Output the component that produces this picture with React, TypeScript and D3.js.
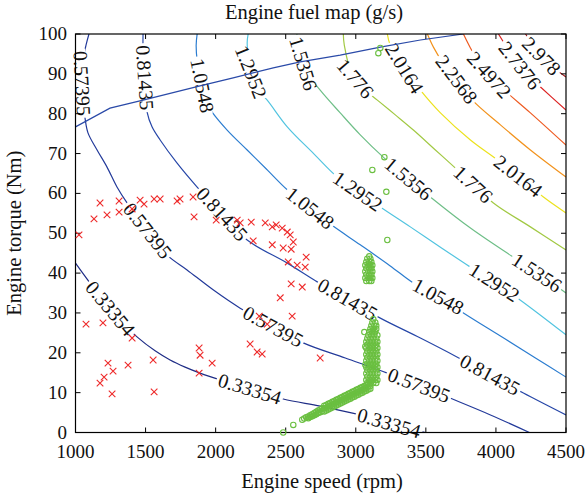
import React from 'react';
import * as d3 from 'd3';

const speedTicks = [1000, 1500, 2000, 2500, 3000, 3500, 4000, 4500];
const torqueTicks = [0, 10, 20, 30, 40, 50, 60, 70, 80, 90, 100];

const levelNames = ['0.33354', '0.57395', '0.81435', '1.0548', '1.2952', '1.5356', '1.776', '2.0164', '2.2568', '2.4972', '2.7376', '2.978'];

const iso0 = [[1000, 42.5], [1104, 37.5], [1211, 32.7], [1318, 28.2], [1439, 24.0], [1568, 20.5], [1675, 18.2], [1782, 16.4], [1889, 14.9], [2032, 13.2], [2246, 10.9], [2482, 8.4], [2746, 6.6], [3032, 4.4], [3282, 1.9], [3496, 0]];
const iso1 = [[1096, 100], [1075, 97.2], [1054, 93.5], [1046, 88.5], [1054, 83.4], [1068, 78.9], [1089, 75.2], [1154, 70.9], [1225, 66.6], [1296, 61.6], [1368, 57.6], [1511, 50.8], [1654, 44.5], [1796, 40.8], [1982, 35.8], [2175, 31.2], [2389, 27.0], [2625, 22.5], [2925, 18.7], [3225, 14.9], [3461, 11.7], [3654, 8.9], [3961, 4.4], [4239, 0]];
const iso2 = [[1482, 100], [1482, 96.0], [1496, 88.5], [1511, 80.4], [1546, 76.7], [1604, 73.4], [1725, 67.6], [1868, 61.6], [2046, 54.8], [2225, 48.3], [2511, 42.5], [2725, 37.8], [2961, 33.0], [3175, 28.7], [3461, 23.7], [3725, 18.9], [3961, 14.4], [4196, 9.9], [4500, 4.4]];
const iso3 = [[1868, 100], [1861, 97.2], [1868, 93.5], [1925, 83.4], [1975, 80.4], [2082, 75.9], [2225, 70.9], [2368, 65.9], [2511, 60.9], [2675, 56.3], [2818, 52.3], [3032, 47.1], [3246, 41.8], [3411, 37.5], [3604, 33.8], [3768, 30.0], [4032, 24.2], [4282, 18.7], [4500, 13.9]];
const iso4 = [[2232, 100], [2225, 97.7], [2246, 91.0], [2304, 85.9], [2368, 83.4], [2511, 76.7], [2696, 70.1], [2868, 64.1], [3032, 60.1], [3175, 56.6], [3389, 51.6], [3604, 46.5], [3818, 41.5], [3996, 37.5], [4175, 33.2], [4500, 24.5]];
const iso5 = [[2582, 100], [2575, 98.5], [2639, 91.0], [2746, 85.9], [2889, 80.2], [3032, 74.7], [3196, 69.1], [3318, 65.4], [3532, 59.1], [3818, 51.3], [4154, 43.3], [4318, 39.5], [4500, 35.0]];
const iso6 = [[2911, 100], [2918, 97.2], [2975, 89.7], [3068, 85.9], [3154, 83.4], [3282, 79.7], [3411, 75.9], [3568, 70.9], [3725, 65.9], [3982, 57.6], [4246, 51.6], [4500, 45.8]];
const iso7 = [[3225, 100], [3246, 97.2], [3354, 91.0], [3461, 85.9], [3604, 80.2], [3818, 73.4], [4011, 68.4], [4175, 63.9], [4339, 59.1], [4500, 55.1]];
const iso8 = [[3511, 100], [3554, 96.7], [3618, 93.0], [3711, 89.0], [3832, 83.4], [4032, 77.2], [4246, 70.9], [4500, 64.1]];
const iso9 = [[3768, 100], [3818, 96.5], [3889, 92.2], [3996, 88.0], [4082, 85.2], [4246, 80.2], [4500, 72.1]];
const iso10 = [[4018, 100], [4068, 97.2], [4139, 93.5], [4225, 89.7], [4318, 86.7], [4500, 80.9]];
const iso11 = [[4211, 100], [4261, 97.5], [4318, 94.7], [4389, 92.2], [4500, 89.2]];

const isoLines = [iso0, iso1, iso2, iso3, iso4, iso5, iso6, iso7, iso8, iso9, iso10, iso11];
const isoColors = ['#1f2d86', '#233a9a', '#2747a8', '#2c7dd0', '#52c4e0', '#6fbf88', '#a2c944', '#ece21e', '#f2931e', '#ee5b22', '#dc2424', '#a8181c'];

const maxTorque = [[1000, 76.7], [1246, 81.4], [1482, 83.4], [1889, 87.0], [2125, 89.0], [2411, 91.5], [2604, 93.0], [2889, 94.7], [3175, 96.7], [3461, 98.5], [3768, 100]];

// [level index, speed, torque]
const labelAnchors = [
  [1, 1086, 87.7], [2, 1482, 89.0], [3, 1925, 87.2], [4, 2289, 91.0], [5, 2639, 92.7], [6, 3025, 89.7],
  [7, 3361, 91.7], [8, 3696, 88.0], [9, 3975, 90.5], [10, 4204, 93.0], [11, 4346, 95.2],
  [1, 1511, 50.6], [2, 2054, 55.1], [3, 2661, 55.8], [4, 3011, 60.4], [5, 3375, 63.6], [6, 3846, 62.6], [7, 4154, 64.1],
  [0, 1261, 31.5], [0, 2246, 11.2], [1, 2404, 26.2], [2, 2939, 33.2], [3, 3582, 33.8], [4, 3982, 37.3], [5, 4296, 40.3],
  [1, 3446, 11.4], [2, 3961, 14.7], [0, 3246, 3.4],
];

const redPoints = [
  [1025, 49.6], [1132, 53.6], [1175, 57.6], [1225, 54.6], [1311, 58.1], [1311, 55.3], [1404, 56.1], [1461, 58.3], [1489, 57.3],
  [1561, 58.6], [1604, 58.6], [1725, 58.1], [1746, 58.6], [1839, 59.1], [1846, 54.1], [2004, 53.3], [2154, 53.3], [2175, 52.6],
  [2254, 52.8], [2268, 48.1], [2354, 52.6], [2404, 51.6], [2432, 52.1], [2475, 51.3], [2511, 50.3], [2532, 49.6], [2554, 47.8],
  [2404, 47.1], [2482, 46.3], [2539, 46.0], [2518, 42.8], [2646, 44.0], [2582, 42.0], [2639, 41.5], [2539, 37.3], [2618, 36.5],
  [2461, 33.8], [2546, 29.2], [2746, 18.7], [1075, 27.2], [1196, 27.5], [1404, 23.7], [1232, 17.4], [1268, 15.4], [1204, 13.9],
  [1175, 12.4], [1261, 9.7], [1375, 16.9], [1554, 18.2], [1561, 10.2], [1882, 21.2], [1889, 19.4], [1975, 17.4], [1882, 14.9],
  [2246, 22.2], [2296, 20.2], [2332, 19.7], [2311, 29.2], [2368, 27.2],
];

const greenScatter = [[3175, 96.5], [3161, 95.2], [3204, 69.1], [3118, 65.9], [3218, 60.4], [3225, 48.3]];

const greenUpperCluster = [
  [3075, 38.0], [3096, 38.0], [3111, 38.0],
  [3068, 38.8], [3089, 38.8], [3104, 38.8], [3118, 38.8],
  [3075, 39.6], [3096, 39.6], [3111, 39.6],
  [3068, 40.4], [3089, 40.4], [3104, 40.4], [3118, 40.4],
  [3075, 41.2], [3096, 41.2], [3111, 41.2],
  [3068, 42.0], [3089, 42.0], [3104, 42.0], [3118, 42.0],
  [3075, 42.8], [3096, 42.8], [3111, 42.8],
  [3082, 43.6], [3104, 43.6], [3096, 44.2],
];

const greenColumn = [
  [3082, 12.4], [3104, 12.4], [3125, 12.4], [3146, 12.4],
  [3075, 13.2], [3096, 13.2], [3118, 13.2], [3139, 13.2], [3154, 13.2],
  [3082, 14.0], [3104, 14.0], [3125, 14.0], [3146, 14.0],
  [3075, 14.8], [3096, 14.8], [3118, 14.8], [3139, 14.8], [3154, 14.8],
  [3082, 15.6], [3104, 15.6], [3125, 15.6], [3146, 15.6],
  [3075, 16.4], [3096, 16.4], [3118, 16.4], [3139, 16.4], [3154, 16.4],
  [3082, 17.2], [3104, 17.2], [3125, 17.2], [3146, 17.2],
  [3075, 18.0], [3096, 18.0], [3118, 18.0], [3139, 18.0], [3154, 18.0],
  [3082, 18.8], [3104, 18.8], [3125, 18.8], [3146, 18.8],
  [3075, 19.6], [3096, 19.6], [3118, 19.6], [3139, 19.6], [3154, 19.6],
  [3082, 20.4], [3104, 20.4], [3125, 20.4], [3146, 20.4],
  [3075, 21.2], [3096, 21.2], [3118, 21.2], [3139, 21.2], [3154, 21.2],
  [3082, 22.0], [3104, 22.0], [3125, 22.0], [3146, 22.0],
  [3075, 22.8], [3096, 22.8], [3118, 22.8], [3139, 22.8], [3154, 22.8],
  [3082, 23.6], [3104, 23.6], [3125, 23.6], [3146, 23.6],
  [3089, 24.4], [3111, 24.4], [3132, 24.4], [3154, 24.4],
  [3096, 25.2], [3118, 25.2], [3139, 25.2],
  [3104, 26.0], [3125, 26.0], [3146, 26.0],
  [3111, 26.8], [3132, 26.8], [3146, 26.8],
  [3118, 27.6], [3139, 27.6], [3125, 28.4],
  [3061, 25.2], [3068, 21.6], [3068, 17.0],
];

const greenBand = [
  [3104, 12.4], [3104, 11.7], [3104, 11.0], [3090, 12.2], [3090, 11.5], [3090, 10.8],
  [3075, 11.9], [3075, 11.2], [3075, 10.5], [3061, 11.7], [3061, 11.0], [3061, 10.3],
  [3047, 11.4], [3047, 10.7], [3047, 10.0], [3033, 11.2], [3033, 10.5], [3033, 9.8],
  [3018, 10.9], [3018, 10.2], [3018, 9.5], [3004, 10.7], [3004, 10.0], [3004, 9.3],
  [2990, 10.4], [2990, 9.7], [2990, 9.0], [2975, 10.2], [2975, 9.5], [2975, 8.8],
  [2961, 9.9], [2961, 9.2], [2961, 8.5], [2947, 9.7], [2947, 9.0], [2947, 8.3],
  [2933, 9.4], [2933, 8.7], [2933, 8.0], [2918, 9.2], [2918, 8.5], [2918, 7.8],
  [2904, 8.9], [2904, 8.2], [2904, 7.5], [2890, 8.7], [2890, 8.0], [2890, 7.3],
  [2875, 8.4], [2875, 7.7], [2875, 7.0], [2861, 8.2], [2861, 7.5], [2861, 6.8],
  [2847, 7.9], [2847, 7.2], [2847, 6.5], [2833, 7.7], [2833, 7.0], [2833, 6.3],
  [2818, 7.4], [2818, 6.7], [2818, 6.0], [2804, 7.2], [2804, 6.5], [2804, 5.8],
  [2790, 6.9], [2790, 6.2], [2790, 5.5], [2775, 6.7], [2775, 6.0], [2775, 5.3],
  [2761, 6.1], [2761, 5.4], [2747, 5.8], [2747, 5.1], [2732, 5.5], [2732, 4.9],
  [2718, 5.2], [2718, 4.6], [2704, 4.9], [2704, 4.3], [2689, 4.6], [2689, 4.1],
  [2675, 4.3], [2675, 3.9], [2661, 4.0], [2661, 3.6], [2646, 3.8], [2632, 3.5], [2618, 3.2],
  [2554, 1.9], [2482, 0],
];

const FONT = '"Liberation Serif", "Times New Roman", Times, serif';

export default function App() {
  const W = 586, H = 496;
  const x = d3.scaleLinear().domain([1000, 4500]).range([75.5, 566]);
  const y = d3.scaleLinear().domain([0, 100]).range([432.5, 34]);
  const line = d3.line<number[]>().x(d => x(d[0])).y(d => y(d[1])).curve(d3.curveCatmullRom.alpha(0.5));
  const straight = d3.line<number[]>().x(d => x(d[0])).y(d => y(d[1]));
  const [x0, x1] = x.range();
  const [y0, y1] = y.range();
  const labelSize = 20;
  const greenPoints = [...greenScatter, ...greenUpperCluster, ...greenColumn, ...greenBand];

  const labels = labelAnchors.map(([li, s, t], i) => {
    const pts = isoLines[li].map(p => [x(p[0]), y(p[1])]);
    const ax = x(s), ay = y(t);
    let best = { d: Infinity, px: ax, py: ay, ang: 0 };
    for (let k = 0; k < pts.length - 1; k++) {
      const [ax0, ay0] = pts[k], [bx, by] = pts[k + 1];
      const dx = bx - ax0, dy = by - ay0;
      const L2 = dx * dx + dy * dy;
      let u = ((ax - ax0) * dx + (ay - ay0) * dy) / L2;
      u = Math.max(0, Math.min(1, u));
      const px = ax0 + u * dx, py = ay0 + u * dy;
      const d = Math.hypot(px - ax, py - ay);
      if (d < best.d) {
        let ang = Math.atan2(dy, dx) * 180 / Math.PI;
        if (ang > 90) ang -= 180;
        if (ang <= -90) ang += 180;
        best = { d, px, py, ang };
      }
    }
    const txt = levelNames[li];
    const digits = txt.replace('.', '').length;
    const w = labelSize * (0.5 * digits + 0.25);
    return (
      <g key={'lab' + i} transform={`translate(${best.px},${best.py}) rotate(${best.ang})`}>
        <rect x={-w / 2 - 2} y={-5} width={w + 4} height={10} fill="#fff" />
        <text textAnchor="middle" dy="0.34em" fontSize={labelSize} fontFamily={FONT} fill="#111">{txt}</text>
      </g>
    );
  });

  return (
    <svg width={W} height={H} style={{ position: 'absolute', left: 0, top: 0, background: '#fff' }}>
      <defs>
        <clipPath id="plotClip">
          <rect x={x0} y={y1} width={x1 - x0} height={y0 - y1} />
        </clipPath>
      </defs>
      <rect x={0} y={0} width={W} height={H} fill="#fff" />
      <g clipPath="url(#plotClip)">
        {isoLines.map((pts, i) => (
          <path key={'iso' + i} d={line(pts) || ''} fill="none" stroke={isoColors[i]} strokeWidth={1.2} />
        ))}
      </g>
      {labels}
      <g clipPath="url(#plotClip)">
        <path d={straight(maxTorque) || ''} fill="none" stroke="#2a4aa8" strokeWidth={1.2} />
      </g>
      <rect x={x0} y={y1} width={x1 - x0} height={y0 - y1} fill="none" stroke="#000" strokeWidth={1.2} />
      {speedTicks.map(v => (
        <g key={'xt' + v}>
          <line x1={x(v)} x2={x(v)} y1={y0} y2={y0 - 5} stroke="#000" />
          <line x1={x(v)} x2={x(v)} y1={y1} y2={y1 + 5} stroke="#000" />
          <text x={x(v)} y={458} textAnchor="middle" fontSize={19} fontFamily={FONT} fill="#111">{v}</text>
        </g>
      ))}
      {torqueTicks.map(v => (
        <g key={'yt' + v}>
          <line x1={x0} x2={x0 + 5} y1={y(v)} y2={y(v)} stroke="#000" />
          <line x1={x1} x2={x1 - 5} y1={y(v)} y2={y(v)} stroke="#000" />
          <text x={67} y={y(v)} dy="0.32em" textAnchor="end" fontSize={19} fontFamily={FONT} fill="#111">{v}</text>
        </g>
      ))}
      <text x={314} y={19} textAnchor="middle" fontSize={20.5} fontFamily={FONT} fill="#111">Engine fuel map (g/s)</text>
      <text x={322} y={488} textAnchor="middle" fontSize={20.5} fontFamily={FONT} fill="#111">Engine speed (rpm)</text>
      <text transform={`translate(21,${(y0 + y1) / 2}) rotate(-90)`} textAnchor="middle" fontSize={20.5} fontFamily={FONT} fill="#111">Engine torque (Nm)</text>
      {redPoints.map((p, i) => {
        const cx = x(p[0]), cy = y(p[1]);
        return (
          <path key={'r' + i} d={`M${cx - 3.3},${cy - 3.3}L${cx + 3.3},${cy + 3.3}M${cx - 3.3},${cy + 3.3}L${cx + 3.3},${cy - 3.3}`} stroke="#ee2a2a" strokeWidth={1.1} fill="none" />
        );
      })}
      {greenPoints.map((p, i) => (
        <circle key={'g' + i} cx={x(p[0])} cy={y(p[1])} r={2.7} fill="none" stroke="#6abf40" strokeWidth={1.1} />
      ))}
    </svg>
  );
}
